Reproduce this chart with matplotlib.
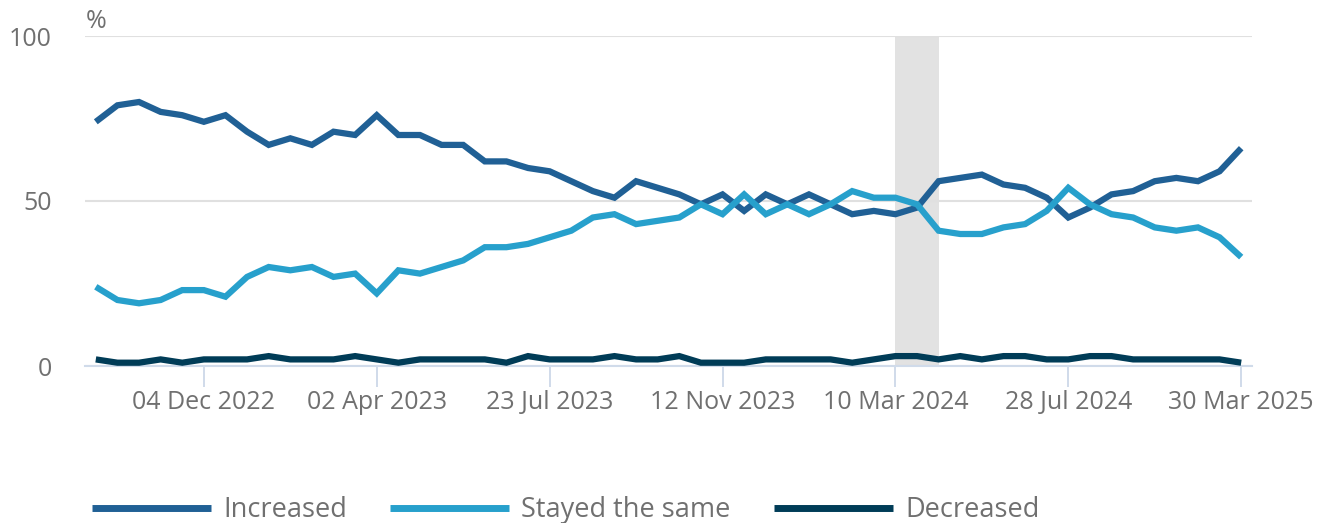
import numpy as np
import matplotlib
matplotlib.use('Agg')
import matplotlib.pyplot as plt

# survey waves, one point per wave (only some dates are labelled)
increased = [74, 79, 80, 77, 76, 74, 76, 71, 67, 69, 67, 71, 70, 76,
             70, 70, 67, 67, 62, 62, 60, 59, 56, 53, 51, 56, 54,
             52, 49, 52, 47, 52, 49, 52, 49, 46, 47, 46, 48, 56,
             57, 58, 55, 54, 51, 45, 48, 52, 53, 56, 57, 56, 59, 66]
stayed = [24, 20, 19, 20, 23, 23, 21, 27, 30, 29, 30, 27, 28, 22,
          29, 28, 30, 32, 36, 36, 37, 39, 41, 45, 46, 43, 44,
          45, 49, 46, 52, 46, 49, 46, 49, 53, 51, 51, 49, 41,
          40, 40, 42, 43, 47, 54, 49, 46, 45, 42, 41, 42, 39, 33]
decreased = [2, 1, 1, 2, 1, 2, 2, 2, 3, 2, 2, 2, 3, 2,
             1, 2, 2, 2, 2, 1, 3, 2, 2, 2, 3, 2, 2,
             3, 1, 1, 1, 2, 2, 2, 2, 1, 2, 3, 3, 2,
             3, 2, 3, 3, 2, 2, 3, 3, 2, 2, 2, 2, 2, 1]

tick_idx = [5, 13, 21, 29, 37, 45, 53]
tick_labels = ['04 Dec 2022', '02 Apr 2023', '23 Jul 2023', '12 Nov 2023',
               '10 Mar 2024', '28 Jul 2024', '30 Mar 2025']
shade_start, shade_end = 37, 39

series_names = ['Increased', 'Stayed the same', 'Decreased']
colours = ['#206095', '#27a0cc', '#003c57']

plt.rcParams['font.family'] = ['Open Sans', 'DejaVu Sans']
grey = '#707070'

fig = plt.figure(figsize=(13.23, 5.23), dpi=100)
ax = fig.add_axes([85 / 1323, 1 - 366 / 523, (1252 - 85) / 1323, 330 / 523])

x = np.arange(len(increased))

# shaded period
ax.axvspan(shade_start, shade_end, color='#e2e2e2', lw=0, zorder=0)

for vals, name, col in zip([increased, stayed, decreased], series_names, colours):
    ax.plot(x, vals, color=col, lw=4.5, label=name, zorder=3,
            solid_joinstyle='miter', solid_capstyle='butt')

ax.set_xlim(-0.5, 53.5)
ax.set_ylim(0, 100)

# gridlines
ax.set_yticks([0, 50, 100])
ax.yaxis.grid(True, color='#e0e0e0', lw=1.5, zorder=1)
ax.set_axisbelow(True)

for s in ['top', 'right', 'left']:
    ax.spines[s].set_visible(False)
ax.spines['bottom'].set_color('#d0dbea')
ax.spines['bottom'].set_linewidth(1.5)
ax.spines['bottom'].set_zorder(2)

ax.set_xticks(tick_idx)
ax.set_xticklabels(tick_labels)
ax.tick_params(axis='x', length=15, width=1.2, color='#c8d4e6', labelcolor=grey,
               labelsize=18, pad=2)
ax.tick_params(axis='y', length=0, labelsize=18, labelcolor=grey, pad=24)

fig.text(86 / 1323, 1 - 22 / 523, '%', fontsize=18, color=grey,
         ha='left', va='center')

leg = fig.legend(loc='center left', bbox_to_anchor=(92 / 1323, 1 - 510 / 523),
                 ncol=3, frameon=False, fontsize=19.5, handlelength=4.4,
                 handletextpad=0.45, columnspacing=1.58, borderaxespad=0,
                 borderpad=0)
for t in leg.get_texts():
    t.set_color(grey)
for h in leg.get_lines():
    h.set_linewidth(5)

fig.savefig('out.png', dpi=100)
